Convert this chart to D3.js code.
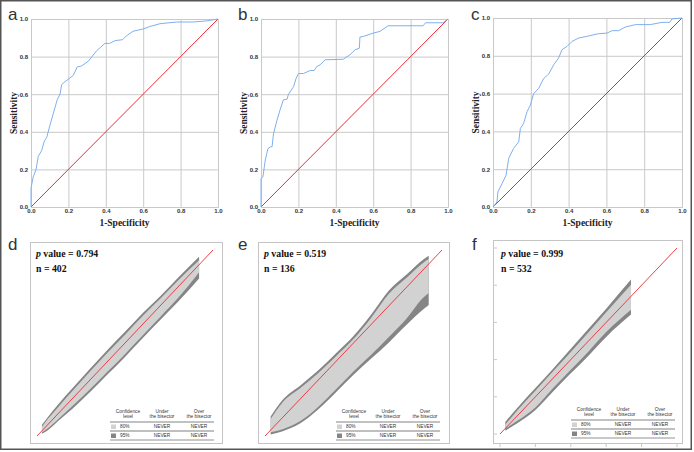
<!DOCTYPE html>
<html><head><meta charset="utf-8">
<script src="https://cdn.jsdelivr.net/npm/d3@7"></script>
<style>body{margin:0;background:#fff}svg{display:block}</style>
</head><body>
<svg id="chart" width="694" height="452"></svg>
<script>
// ---------- ROC curves (1-Specificity, Sensitivity) ----------
const rocAx = [0,0,0.012,0.027,0.039,0.057,0.071,0.084,0.1,0.12,0.14,0.155,0.164,0.173,0.2,0.226,0.247,0.27,0.306,0.35,0.395,0.42,0.45,0.49,0.51,0.546,0.6,0.635,0.69,0.78,0.867,0.94,1];
const rocAy = [0,0.1,0.16,0.2,0.27,0.3,0.35,0.37,0.43,0.5,0.57,0.6,0.65,0.66,0.68,0.70,0.745,0.75,0.775,0.83,0.87,0.87,0.885,0.89,0.91,0.935,0.947,0.96,0.975,0.984,0.984,0.99,1];
const rocBx = [0,0,0.01,0.023,0.037,0.05,0.059,0.067,0.085,0.103,0.12,0.139,0.147,0.174,0.188,0.2,0.227,0.263,0.284,0.298,0.316,0.343,0.44,0.476,0.503,0.526,0.529,0.547,0.6,0.636,0.68,0.867,0.88,0.973,1];
const rocBy = [0,0.15,0.16,0.25,0.31,0.32,0.32,0.39,0.46,0.52,0.57,0.573,0.6,0.64,0.685,0.71,0.71,0.726,0.726,0.747,0.756,0.783,0.786,0.81,0.836,0.845,0.904,0.907,0.925,0.934,0.964,0.964,0.98,0.98,1];
const rocCx = [0,0.021,0.026,0.048,0.069,0.083,0.109,0.136,0.145,0.162,0.18,0.198,0.215,0.242,0.268,0.295,0.321,0.347,0.365,0.392,0.418,0.453,0.497,0.559,0.603,0.63,0.665,0.7,0.753,0.832,0.894,0.935,0.947,1];
const rocCy = [0,0.027,0.08,0.124,0.168,0.257,0.31,0.345,0.416,0.442,0.504,0.54,0.6,0.628,0.68,0.704,0.752,0.788,0.832,0.85,0.876,0.894,0.903,0.917,0.92,0.933,0.933,0.952,0.965,0.965,0.977,0.977,0.995,1];
const axisTicks = [0,0.2,0.4,0.6,0.8,1.0];
const rocLabels = ["a","b","c"];
const xTitle = "1-Specificity";
const yTitle = "Sensitivity";

// ---------- Calibration belts ----------
const beltDx   = [0.028,0.06,0.12,0.2,0.3,0.4,0.5,0.6,0.7,0.8,0.921];
const beltDu95 = [0.06,0.10,0.17,0.255,0.36,0.462,0.56,0.66,0.752,0.85,0.964];
const beltDu80 = [0.05,0.09,0.155,0.24,0.345,0.447,0.545,0.645,0.738,0.835,0.945];
const beltDl80 = [0.02,0.04,0.09,0.16,0.25,0.345,0.44,0.54,0.64,0.74,0.88];
const beltDl95 = [0.012,0.03,0.08,0.145,0.235,0.33,0.425,0.525,0.623,0.72,0.847];

const beltEx   = [0.032,0.1,0.2,0.3,0.4,0.5,0.6,0.7,0.8,0.9,0.925];
const beltEu95 = [0.105,0.195,0.272,0.352,0.443,0.537,0.653,0.782,0.868,0.953,0.969];
const beltEu80 = [0.092,0.182,0.258,0.338,0.428,0.521,0.636,0.765,0.851,0.936,0.951];
const beltEl80 = [0.02,0.036,0.08,0.156,0.25,0.347,0.437,0.532,0.632,0.749,0.767];
const beltEl95 = [0.008,0.026,0.068,0.142,0.234,0.329,0.416,0.503,0.598,0.686,0.704];

const beltFx   = [0.03,0.1,0.2,0.3,0.4,0.5,0.6,0.74];
const beltFu95 = [0.065,0.143,0.247,0.351,0.459,0.566,0.674,0.83];
const beltFu80 = [0.05,0.129,0.233,0.337,0.441,0.547,0.654,0.803];
const beltFl80 = [0.029,0.072,0.143,0.247,0.346,0.444,0.548,0.668];
const beltFl95 = [0.018,0.059,0.129,0.229,0.326,0.421,0.522,0.642];

const beltLabels = ["d","e","f"];
const pValues = ["0.794","0.519","0.999"];
const nValues = ["402","136","532"];
const legendLevels = ["80%","95%"];
const legendUnder = ["NEVER","NEVER"];
const legendOver = ["NEVER","NEVER"];
const legendHead = [["Confidence","level"],["Under","the bisector"],["Over","the bisector"]];

// ---------- drawing ----------
const svg = d3.select("#chart");
const serif = "'Liberation Serif','Times New Roman',serif";
const sans = "'Liberation Sans',Arial,sans-serif";
const BLUE = "#7fb0ee", RED = "#ee2b35", GRID = "#c9c9c9";
const LIGHT = "#d2d2d2", DARK = "#858585";

svg.append("rect").attr("x",0.75).attr("y",0.75).attr("width",690.5).attr("height",448.5)
  .attr("fill","none").attr("stroke","#555").attr("stroke-width",1.5);

const rocPanels = [
  {x0:31, x1:218, y0:207, y1:19, lx:8, xs:rocAx, ys:rocAy},
  {x0:261, x1:448, y0:207, y1:19, lx:238, xs:rocBx, ys:rocBy},
  {x0:493, x1:682, y0:207, y1:18, lx:471, xs:rocCx, ys:rocCy}
];
rocPanels.forEach((p,i)=>{
  const x = d3.scaleLinear().domain([0,1]).range([p.x0,p.x1]);
  const y = d3.scaleLinear().domain([0,1]).range([p.y0,p.y1]);
  const g = svg.append("g");
  const gx = g.append("g").attr("transform",`translate(0,${p.y0})`)
    .call(d3.axisBottom(x).tickValues(axisTicks).tickFormat(d3.format(".1f")).tickSize(-(p.y0-p.y1)).tickPadding(4));
  const gy = g.append("g").attr("transform",`translate(${p.x0},0)`)
    .call(d3.axisLeft(y).tickValues(axisTicks).tickFormat(d3.format(".1f")).tickSize(-(p.x1-p.x0)).tickPadding(3));
  [gx,gy].forEach(a=>{
    a.select(".domain").attr("stroke",GRID);
    a.selectAll(".tick line").attr("stroke",GRID).attr("stroke-width",1);
    a.selectAll(".tick text").attr("font-family",sans).attr("font-size",6).attr("fill","#333").attr("font-weight","bold");
  });
  gx.selectAll(".tick text").attr("dy","0.35em");
  const diag = d3.line().x(d=>x(d)).y(d=>y(d));
  g.append("path").datum([0,1]).attr("d",diag).attr("fill","none")
    .style("stroke",RED).style("stroke-width","1px");
  const pts = p.xs.map((v,k)=>[v,p.ys[k]]);
  g.append("path").datum(pts).attr("fill","none").style("stroke",BLUE).style("stroke-width","1px")
    .attr("d",d3.line().x(d=>x(d[0])).y(d=>y(d[1])));
  g.append("text").attr("x",(p.x0+p.x1)/2).attr("y",226).attr("text-anchor","middle")
    .attr("font-family",serif).attr("font-weight","bold").attr("font-size",9.5).attr("fill","#222").text(xTitle);
  g.append("text").attr("transform",`translate(${p.x0-14},${(p.y0+p.y1)/2}) rotate(-90)`).attr("text-anchor","middle")
    .attr("font-family",serif).attr("font-weight","bold").attr("font-size",9.5).attr("fill","#222").text(yTitle);
  svg.append("text").attr("x",p.lx).attr("y",20).attr("font-family",sans).attr("font-size",17)
    .attr("fill","#333").text(rocLabels[i]);
});

const beltPanels = [
  {fx0:30, fx1:222, fy0:242, fy1:443, sx:[37,213], sy:[436,250], lx:8, tx:110, ty:422, xs:beltDx, u95:beltDu95, u80:beltDu80, l80:beltDl80, l95:beltDl95, ticks:false},
  {fx0:258, fx1:449, fy0:242, fy1:443, sx:[265,442], sy:[436,250], lx:238, tx:336, ty:422, xs:beltEx, u95:beltEu95, u80:beltEu80, l80:beltEl80, l95:beltEl95, ticks:false},
  {fx0:493, fx1:682, fy0:240, fy1:443, sx:[500,677], sy:[434,248], lx:472, tx:571, ty:420, xs:beltFx, u95:beltFu95, u80:beltFu80, l80:beltFl80, l95:beltFl95, ticks:true}
];
beltPanels.forEach((p,i)=>{
  const g = svg.append("g");
  const x = d3.scaleLinear().domain([0,1]).range(p.sx);
  const y = d3.scaleLinear().domain([0,1]).range(p.sy);
  g.append("rect").attr("x",p.fx0+0.5).attr("y",p.fy0+0.5).attr("width",p.fx1-p.fx0).attr("height",p.fy1-p.fy0)
    .attr("fill","#fff").attr("stroke","#c4c4c4").attr("stroke-width",1);
  if(p.ticks){
    axisTicks.forEach(t=>{
      g.append("line").attr("x1",p.fx0).attr("x2",p.fx0+4).attr("y1",y(t)).attr("y2",y(t)).attr("stroke","#c8c8c8");
      g.append("line").attr("x1",x(t)).attr("x2",x(t)).attr("y1",p.fy1).attr("y2",p.fy1+4).attr("stroke","#c8c8c8");
    });
  }
  const idx = d3.range(p.xs.length);
  const area = (lo,hi)=>d3.area().curve(d3.curveMonotoneX).x(k=>x(p.xs[k])).y0(k=>y(lo[k])).y1(k=>y(hi[k]));
  g.append("path").datum(idx).attr("fill",DARK).attr("d",area(p.l95,p.u95));
  g.append("path").datum(idx).attr("fill",LIGHT).attr("d",area(p.l80,p.u80));
  const diag = d3.line().x(d=>x(d)).y(d=>y(d));
  g.append("path").datum([0,1]).attr("d",diag).attr("fill","none")
    .style("stroke",RED).style("stroke-width","0.9px");
  // text
  const tx = p.fx0+6+(i===2?2:0);
  const t1 = g.append("text").attr("x",tx).attr("y",257).attr("font-family",serif).attr("font-weight","bold")
    .attr("font-size",9.8).attr("fill","#111");
  t1.append("tspan").attr("font-style","italic").text("p");
  t1.append("tspan").text(" value = "+pValues[i]);
  g.append("text").attr("x",tx).attr("y",272).attr("font-family",serif).attr("font-weight","bold")
    .attr("font-size",9.8).attr("fill","#111").text("n = "+nValues[i]);
  svg.append("text").attr("x",p.lx).attr("y",250).attr("font-family",sans).attr("font-size",17)
    .attr("fill","#333").text(beltLabels[i]);
  // legend table
  const L = g.append("g").attr("font-family",sans).attr("font-size",4.8).attr("fill","#333");
  const W = 104, c1 = p.tx+18, c2 = p.tx+52, c3 = p.tx+89;
  [c1,c2,c3].forEach((cx,k)=>{
    L.append("text").attr("x",cx).attr("y",p.ty-9.5).attr("text-anchor","middle").text(legendHead[k][0]);
    L.append("text").attr("x",cx).attr("y",p.ty-4.5).attr("text-anchor","middle").text(legendHead[k][1]);
  });
  L.append("line").attr("x1",p.tx).attr("x2",p.tx+W).attr("y1",p.ty).attr("y2",p.ty).attr("stroke","#666").attr("stroke-width",0.8);
  L.append("line").attr("x1",p.tx).attr("x2",p.tx+W).attr("y1",p.ty+9).attr("y2",p.ty+9).attr("stroke","#aaa").attr("stroke-width",1.4);
  L.append("line").attr("x1",p.tx).attr("x2",p.tx+W).attr("y1",p.ty+18).attr("y2",p.ty+18).attr("stroke","#777").attr("stroke-width",0.8);
  legendLevels.forEach((lv,r)=>{
    const ry = p.ty + 9*r;
    L.append("rect").attr("x",p.tx+1).attr("y",ry+2.5).attr("width",5).attr("height",4.5).attr("fill",r===0?LIGHT:DARK);
    L.append("text").attr("x",p.tx+10).attr("y",ry+6.3).text(lv);
    L.append("text").attr("x",c2).attr("y",ry+6.3).attr("text-anchor","middle").text(legendUnder[r]);
    L.append("text").attr("x",c3).attr("y",ry+6.3).attr("text-anchor","middle").text(legendOver[r]);
  });
});
</script>
</body></html>
